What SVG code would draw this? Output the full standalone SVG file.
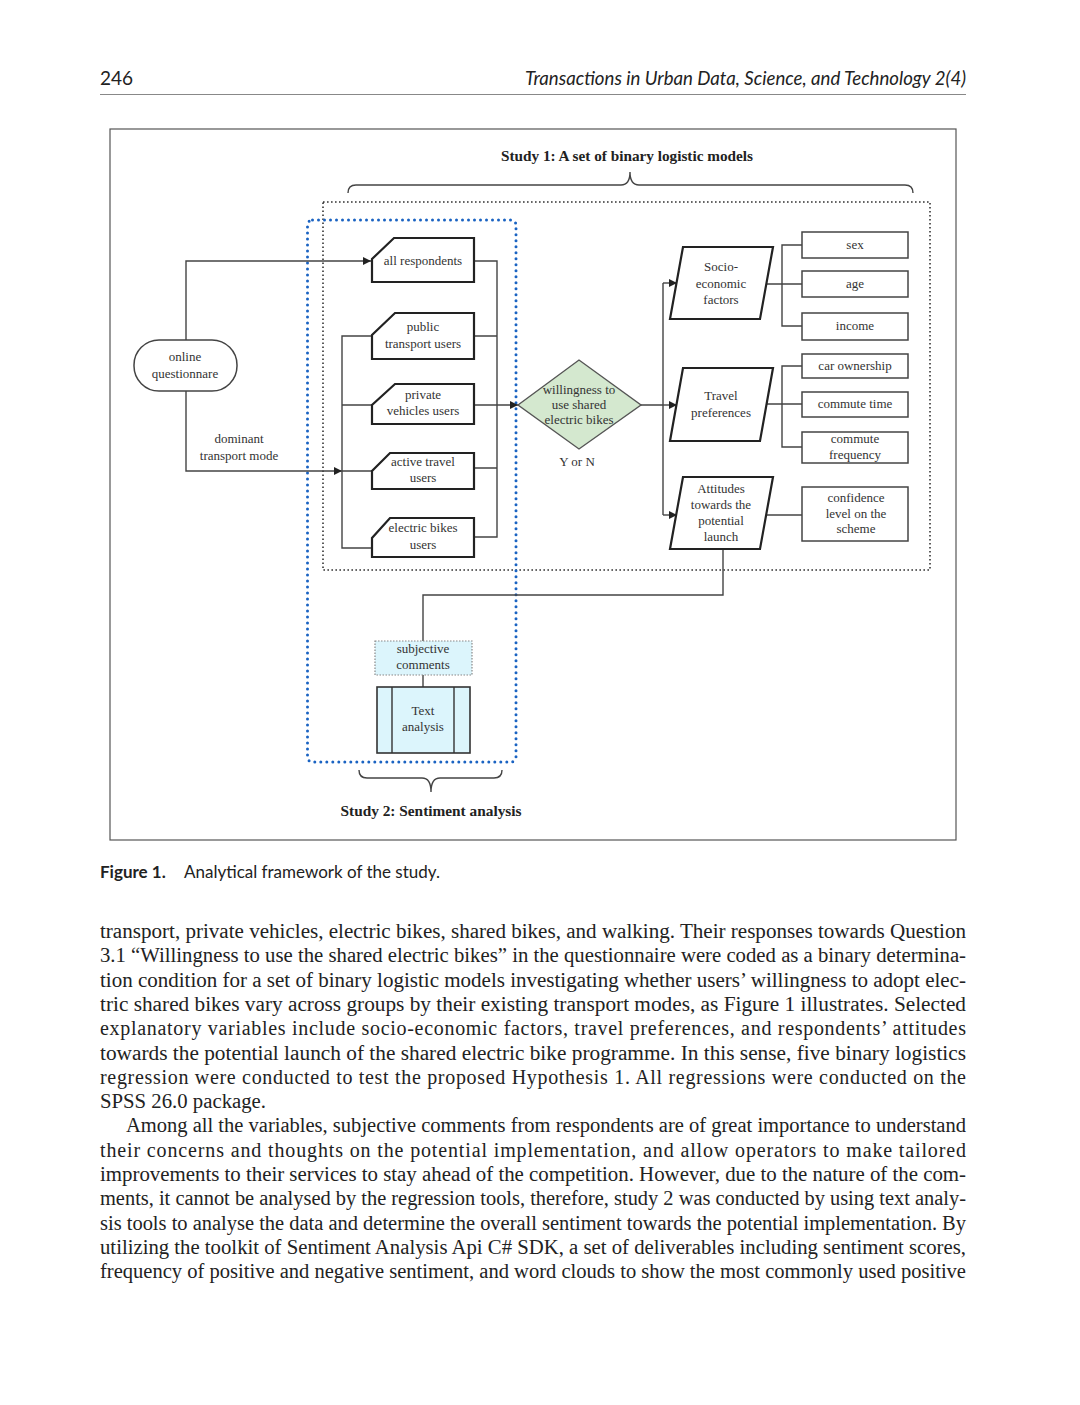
<svg xmlns="http://www.w3.org/2000/svg" width="1080" height="1405" viewBox="0 0 1080 1405">
<style>
.bg{fill:#fff}
.ft{font-family:"Liberation Serif","Times New Roman",serif;font-size:13px;fill:#333;text-anchor:middle}
.ttl{font-family:"Liberation Serif","Times New Roman",serif;font-size:14px;font-weight:bold;fill:#222;text-anchor:middle}
.card{fill:#fff;stroke:#222;stroke-width:2.2;stroke-linejoin:miter}
.box{fill:#fff;stroke:#444;stroke-width:1.5}
.ln{fill:none;stroke:#444;stroke-width:1.4}
.body{font-family:"Liberation Serif","Times New Roman",serif;font-size:20px;fill:#222}
.hdr{font-family:"Lato","Open Sans",sans-serif;font-size:19px;fill:#222}
</style>
<defs>
<marker id="ar" viewBox="0 0 10 10" refX="10" refY="5" markerWidth="10" markerHeight="8" markerUnits="userSpaceOnUse" orient="auto">
<path d="M0,0 L10,5 L0,10 Z" fill="#222"/>
</marker>
</defs>
<rect class="bg" x="0" y="0" width="1080" height="1405"/>

<!-- page header -->
<text class="hdr" x="100" y="85">246</text>
<text class="hdr" x="966" y="85" text-anchor="end" font-style="italic" textLength="441" lengthAdjust="spacingAndGlyphs">Transactions in Urban Data, Science, and Technology 2(4)</text>
<line x1="100" y1="94.5" x2="966" y2="94.5" stroke="#888" stroke-width="1"/>

<!-- figure frame -->
<rect x="110" y="129" width="846" height="711" fill="none" stroke="#555" stroke-width="1.2"/>

<!-- study regions -->
<g id="study1">
<text class="ttl" x="627" y="161" textLength="252" lengthAdjust="spacingAndGlyphs">Study 1: A set of binary logistic models</text>
<path class="ln" d="M348,193 Q348,185 356,185 H621 Q630,185 630,172 Q630,185 639,185 H905 Q913,185 913,193"/>
<rect x="323" y="202" width="607" height="368" fill="none" stroke="#333" stroke-width="1.6" stroke-dasharray="1.6 2.4"/>
</g>
<g id="study2">
<rect x="307.5" y="220" width="208.5" height="542" rx="5" fill="none" stroke="#1a63c2" stroke-width="3" stroke-dasharray="0 6" stroke-linecap="round"/>
<path class="ln" d="M359,770 Q359,778 367,778 H422 Q431,778 431,792 Q431,778 440,778 H494 Q502,778 502,770"/>
<text class="ttl" x="431" y="816" textLength="181" lengthAdjust="spacingAndGlyphs">Study 2: Sentiment analysis</text>
</g>

<!-- connectors -->
<g id="connectors">
<path class="ln" d="M186,340 V261 H371" marker-end="url(#ar)"/>
<path class="ln" d="M186,391 V471 H342" marker-end="url(#ar)"/>
<path class="ln" d="M372,336 H342 V548 H372 M342,405 H372 M342,471 H372"/>
<path class="ln" d="M474,261 H497 V537 H474 M474,336 H497 M474,468 H497"/>
<path class="ln" d="M474,405 H518" marker-end="url(#ar)"/>
<path class="ln" d="M641,405 H663 M663,283 V515"/>
<path class="ln" d="M663,283 H677" marker-end="url(#ar)"/>
<path class="ln" d="M663,405 H677" marker-end="url(#ar)"/>
<path class="ln" d="M663,515 H677" marker-end="url(#ar)"/>
<path class="ln" d="M766,284 H802 M802,245 H782 V326 H802"/>
<path class="ln" d="M766,404 H802 M802,366 H782 V447 H802"/>
<path class="ln" d="M766,515 H802"/>
<path class="ln" d="M723,549 V595 H423 V641 M423,675 V687"/>
</g>

<!-- nodes -->
<g id="online-questionnaire">
<rect x="134" y="340" width="103" height="51" rx="25" class="box"/>
<text class="ft" x="185" y="361">online</text>
<text class="ft" x="185" y="378">questionnare</text>
</g>
<g id="all-respondents">
<path class="card" d="M394,238 H474 V282 H372 V259 Z"/>
<text class="ft" x="423" y="265">all respondents</text>
</g>
<g id="public-transport-users">
<path class="card" d="M395,313 H474 V359 H372 V335 Z"/>
<text class="ft" x="423" y="331">public</text>
<text class="ft" x="423" y="348">transport users</text>
</g>
<g id="private-vehicles-users">
<path class="card" d="M395,384 H474 V424 H372 V405 Z"/>
<text class="ft" x="423" y="399">private</text>
<text class="ft" x="423" y="415">vehicles users</text>
</g>
<g id="active-travel-users">
<path class="card" d="M390,453 H474 V489 H372 V471 Z"/>
<text class="ft" x="423" y="466">active travel</text>
<text class="ft" x="423" y="482">users</text>
</g>
<g id="electric-bikes-users">
<path class="card" d="M390,518 H474 V557 H372 V538 Z"/>
<text class="ft" x="423" y="532">electric bikes</text>
<text class="ft" x="423" y="549">users</text>
</g>
<g id="dominant-label">
<text class="ft" x="239" y="443">dominant</text>
<text class="ft" x="239" y="460">transport mode</text>
</g>
<g id="willingness">
<polygon points="518,405 579,360 641,405 579,449" fill="#d4e8cf" stroke="#555" stroke-width="1.4"/>
<text class="ft" x="579" y="394">willingness to</text>
<text class="ft" x="579" y="409">use shared</text>
<text class="ft" x="579" y="424">electric bikes</text>
<text class="ft" x="577" y="466">Y or N</text>
</g>
<g id="socio-economic">
<polygon class="card" points="683,247 773,247 760,319 670,319"/>
<text class="ft" x="721" y="271">Socio-</text>
<text class="ft" x="721" y="288">economic</text>
<text class="ft" x="721" y="304">factors</text>
</g>
<g id="travel-preferences">
<polygon class="card" points="683,368 773,368 760,441 670,441"/>
<text class="ft" x="721" y="400">Travel</text>
<text class="ft" x="721" y="417">preferences</text>
</g>
<g id="attitudes">
<polygon class="card" points="683,477 773,477 760,549 670,549"/>
<text class="ft" x="721" y="493">Attitudes</text>
<text class="ft" x="721" y="509">towards the</text>
<text class="ft" x="721" y="525">potential</text>
<text class="ft" x="721" y="541">launch</text>
</g>
<g id="sex"><rect class="box" x="802" y="232" width="106" height="26"/><text class="ft" x="855" y="249">sex</text></g>
<g id="age"><rect class="box" x="802" y="271" width="106" height="26"/><text class="ft" x="855" y="288">age</text></g>
<g id="income"><rect class="box" x="802" y="313" width="106" height="27"/><text class="ft" x="855" y="330">income</text></g>
<g id="car-ownership"><rect class="box" x="802" y="354" width="106" height="24"/><text class="ft" x="855" y="370">car ownership</text></g>
<g id="commute-time"><rect class="box" x="802" y="392" width="106" height="25"/><text class="ft" x="855" y="408">commute time</text></g>
<g id="commute-frequency"><rect class="box" x="802" y="432" width="106" height="31"/><text class="ft" x="855" y="443">commute</text><text class="ft" x="855" y="459">frequency</text></g>
<g id="confidence"><rect class="box" x="802" y="487" width="106" height="54"/><text class="ft" x="856" y="502">confidence</text><text class="ft" x="856" y="518">level on the</text><text class="ft" x="856" y="533">scheme</text></g>
<g id="subjective-comments">
<rect x="375" y="641" width="97" height="34" fill="#dcf5fc" stroke="#888" stroke-width="1.2" stroke-dasharray="1.5 1.5"/>
<text class="ft" x="423" y="653">subjective</text>
<text class="ft" x="423" y="669">comments</text>
</g>
<g id="text-analysis">
<rect x="377" y="687" width="93" height="66" fill="#dcf5fc" stroke="#333" stroke-width="1.6"/>
<line x1="392" y1="687" x2="392" y2="753" stroke="#333" stroke-width="1.4"/>
<line x1="454" y1="687" x2="454" y2="753" stroke="#333" stroke-width="1.4"/>
<text class="ft" x="423" y="715">Text</text>
<text class="ft" x="423" y="731">analysis</text>
</g>

<!-- caption -->
<text x="100" y="878" style="font-family:'Lato','Open Sans',sans-serif;font-size:17px;fill:#222"><tspan font-weight="bold">Figure 1.</tspan><tspan x="184">Analytical framework of the study.</tspan></text>

<!-- body text -->
<g class="body">
<text x="100" y="938" textLength="866" lengthAdjust="spacingAndGlyphs">transport, private vehicles, electric bikes, shared bikes, and walking. Their responses towards Question</text>
<text x="100" y="962.3" textLength="866" lengthAdjust="spacingAndGlyphs">3.1 “Willingness to use the shared electric bikes” in the questionnaire were coded as a binary determina-</text>
<text x="100" y="986.6" textLength="866" lengthAdjust="spacingAndGlyphs">tion condition for a set of binary logistic models investigating whether users’ willingness to adopt elec-</text>
<text x="100" y="1010.9" textLength="866" lengthAdjust="spacingAndGlyphs">tric shared bikes vary across groups by their existing transport modes, as Figure 1 illustrates. Selected</text>
<text x="100" y="1035.2" textLength="866" lengthAdjust="spacing">explanatory variables include socio-economic factors, travel preferences, and respondents’ attitudes</text>
<text x="100" y="1059.5" textLength="866" lengthAdjust="spacingAndGlyphs">towards the potential launch of the shared electric bike programme. In this sense, five binary logistics</text>
<text x="100" y="1083.8" textLength="866" lengthAdjust="spacing">regression were conducted to test the proposed Hypothesis 1. All regressions were conducted on the</text>
<text x="100" y="1108.1" textLength="166" lengthAdjust="spacingAndGlyphs">SPSS 26.0 package.</text>
<text x="126" y="1132.4" textLength="840" lengthAdjust="spacingAndGlyphs">Among all the variables, subjective comments from respondents are of great importance to understand</text>
<text x="100" y="1156.7" textLength="866" lengthAdjust="spacing">their concerns and thoughts on the potential implementation, and allow operators to make tailored</text>
<text x="100" y="1181" textLength="866" lengthAdjust="spacingAndGlyphs">improvements to their services to stay ahead of the competition. However, due to the nature of the com-</text>
<text x="100" y="1205.3" textLength="866" lengthAdjust="spacingAndGlyphs">ments, it cannot be analysed by the regression tools, therefore, study 2 was conducted by using text analy-</text>
<text x="100" y="1229.6" textLength="866" lengthAdjust="spacingAndGlyphs">sis tools to analyse the data and determine the overall sentiment towards the potential implementation. By</text>
<text x="100" y="1253.9" textLength="866" lengthAdjust="spacingAndGlyphs">utilizing the toolkit of Sentiment Analysis Api C# SDK, a set of deliverables including sentiment scores,</text>
<text x="100" y="1278.2" textLength="866" lengthAdjust="spacingAndGlyphs">frequency of positive and negative sentiment, and word clouds to show the most commonly used positive</text>
</g>
</svg>
